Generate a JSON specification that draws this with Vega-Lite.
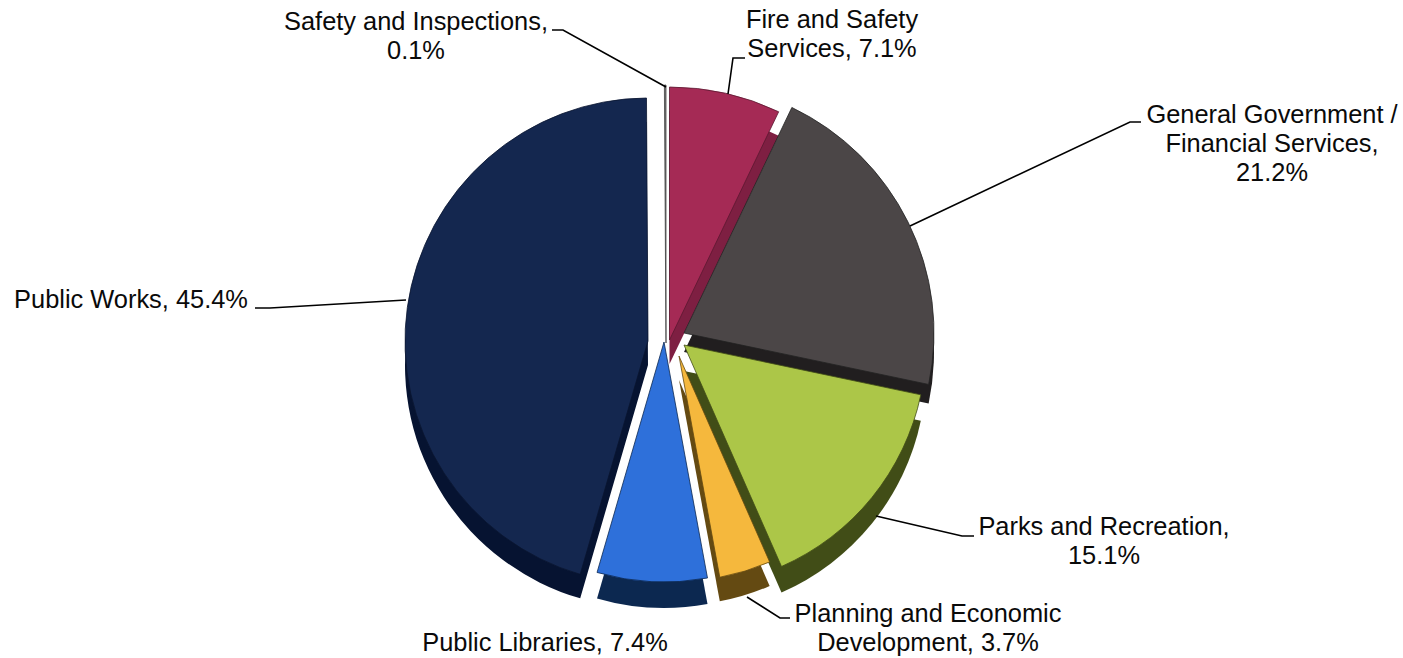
{
"$schema":"https://vega.github.io/schema/vega-lite/v6.json",
"width":1403,"height":658,"padding":0,"autosize":{"type":"none"},
"background":"white","view":{"stroke":null},
"datasets":{
"slices":[
{"name":"Fire and Safety Services","value":7.1,"order":1},
{"name":"General Government / Financial Services","value":21.2,"order":2},
{"name":"Parks and Recreation","value":15.1,"order":3},
{"name":"Planning and Economic Development","value":3.7,"order":4},
{"name":"Public Libraries","value":7.4,"order":5},
{"name":"Public Works","value":45.4,"order":6},
{"name":"Safety and Inspections","value":0.1,"order":7}
],
"labels":[
{"label":"Safety and Inspections,\n0.1%","px":416,"py":22},
{"label":"Fire and Safety\nServices, 7.1%","px":832,"py":20},
{"label":"General Government /\nFinancial Services,\n21.2%","px":1272,"py":115},
{"label":"Parks and Recreation,\n15.1%","px":1104,"py":527},
{"label":"Planning and Economic\nDevelopment, 3.7%","px":928,"py":614},
{"label":"Public Libraries, 7.4%","px":545,"py":643},
{"label":"Public Works, 45.4%","px":131,"py":300}
],
"leaders":[
{"id":"s","i":1,"px":552,"py":30},{"id":"s","i":2,"px":563,"py":30},{"id":"s","i":3,"px":666,"py":87},
{"id":"f","i":1,"px":745,"py":58},{"id":"f","i":2,"px":733,"py":58},{"id":"f","i":3,"px":728,"py":94},
{"id":"g","i":1,"px":1141,"py":122},{"id":"g","i":2,"px":1130,"py":122},{"id":"g","i":3,"px":910,"py":226},
{"id":"p","i":1,"px":974,"py":536},{"id":"p","i":2,"px":962,"py":536},{"id":"p","i":3,"px":876,"py":516},
{"id":"e","i":1,"px":790,"py":618},{"id":"e","i":2,"px":780,"py":618},{"id":"e","i":3,"px":747,"py":597},
{"id":"w","i":1,"px":255,"py":308},{"id":"w","i":2,"px":270,"py":308},{"id":"w","i":3,"px":406,"py":300}
]},
"layer":[
{"data":{"name":"slices"},
"transform":[{"stack":"value","sort":[{"field":"order"}],"as":["v0","v1"]}],
"encoding":{"theta":{"field":"v0","type":"quantitative","scale":{"domain":[0,100]}},"theta2":{"field":"v1"}},
"layer":[
{"transform":[{"filter":"datum.order==1"}],"mark":{"type":"arc","outerRadius":253,"xOffset":-32,"yOffset":35,"fill":"#7e1f42"}},
{"transform":[{"filter":"datum.order==2"}],"mark":{"type":"arc","outerRadius":250,"xOffset":-17.5,"yOffset":23,"fill":"#211e1f"}},
{"transform":[{"filter":"datum.order==3"}],"mark":{"type":"arc","outerRadius":242,"xOffset":-17.5,"yOffset":42,"fill":"#414d17"}},
{"transform":[{"filter":"datum.order==4"}],"mark":{"type":"arc","outerRadius":225,"xOffset":-22.5,"yOffset":51,"fill":"#644a12"}},
{"transform":[{"filter":"datum.order==5"}],"mark":{"type":"arc","outerRadius":240,"xOffset":-37.5,"yOffset":39,"fill":"#0c2850"}},
{"transform":[{"filter":"datum.order==6"}],"mark":{"type":"arc","outerRadius":243,"xOffset":-53.5,"yOffset":36,"fill":"#061331"}},
{"transform":[{"filter":"datum.order==1"}],"mark":{"type":"arc","outerRadius":253,"xOffset":-32,"yOffset":11,"fill":"#a52a55","stroke":"#5a1830","strokeWidth":0.8}},
{"transform":[{"filter":"datum.order==2"}],"mark":{"type":"arc","outerRadius":250,"xOffset":-17.5,"yOffset":4,"fill":"#4b4647","stroke":"#222222","strokeWidth":0.8}},
{"transform":[{"filter":"datum.order==3"}],"mark":{"type":"arc","outerRadius":242,"xOffset":-17.5,"yOffset":16,"fill":"#acc648","stroke":"#414d17","strokeWidth":0.8}},
{"transform":[{"filter":"datum.order==4"}],"mark":{"type":"arc","outerRadius":225,"xOffset":-22.5,"yOffset":27,"fill":"#f5b83d","stroke":"#644a12","strokeWidth":0.8}},
{"transform":[{"filter":"datum.order==5"}],"mark":{"type":"arc","outerRadius":240,"xOffset":-37.5,"yOffset":13,"fill":"#2e70da","stroke":"#0c2850","strokeWidth":0.8}},
{"transform":[{"filter":"datum.order==6"}],"mark":{"type":"arc","outerRadius":243,"xOffset":-53.5,"yOffset":12,"fill":"#14274f","stroke":"#0a1530","strokeWidth":0.8}},
{"transform":[{"filter":"datum.order==7"}],"mark":{"type":"arc","outerRadius":258,"xOffset":-35.5,"yOffset":14,"fill":"#777777","stroke":"#444444","strokeWidth":0.8}}
]},
{"data":{"name":"leaders"},
"mark":{"type":"line","color":"black","strokeWidth":1.6},
"encoding":{
"x":{"field":"px","type":"quantitative","axis":null,"scale":{"domain":[0,1403],"nice":false,"zero":false}},
"y":{"field":"py","type":"quantitative","axis":null,"scale":{"domain":[658,0],"nice":false,"zero":false}},
"detail":{"field":"id"},"order":{"field":"i"}}},
{"data":{"name":"labels"},
"mark":{"type":"text","font":"Liberation Sans","fontSize":25.4,"lineBreak":"\n","lineHeight":28.8,"align":"center","baseline":"middle","color":"#0a0a0a"},
"encoding":{
"x":{"field":"px","type":"quantitative","axis":null,"scale":{"domain":[0,1403],"nice":false,"zero":false}},
"y":{"field":"py","type":"quantitative","axis":null,"scale":{"domain":[658,0],"nice":false,"zero":false}},
"text":{"field":"label"}}}
]
}
